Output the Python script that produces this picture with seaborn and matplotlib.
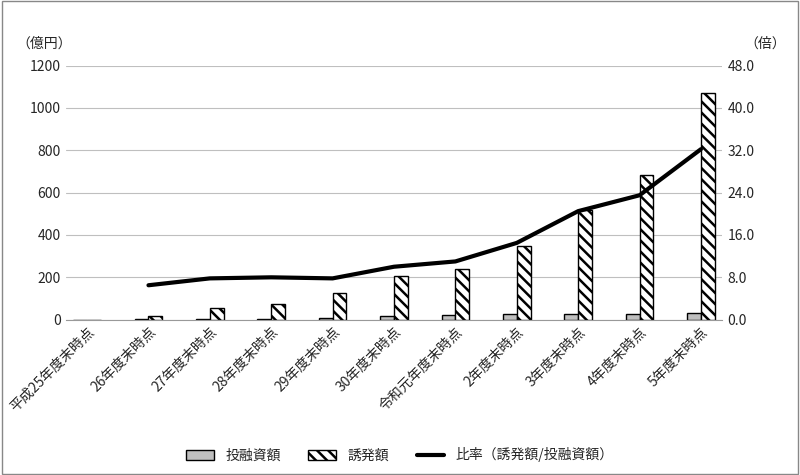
import matplotlib
matplotlib.use("Agg")
import matplotlib.pyplot as plt
import seaborn as sns
import pandas as pd
import numpy as np

sns.set_style("white")
plt.rcParams['font.family'] = ['Noto Sans CJK JP', 'DejaVu Sans']
plt.rcParams['hatch.linewidth'] = 1.8

categories = ["平成25年度末時点","26年度末時点","27年度末時点","28年度末時点","29年度末時点",
              "30年度末時点","令和元年度末時点","2年度末時点","3年度末時点","4年度末時点","5年度末時点"]
invest = [0, 2, 3, 4, 10, 17, 20, 25, 26, 28, 33]
induced = [0, 15, 57, 72, 127, 205, 240, 350, 520, 685, 1070]
ratio = [np.nan, 6.5, 7.8, 8.0, 7.8, 10.0, 11.0, 14.5, 20.5, 23.5, 32.2]

df = pd.DataFrame({"cat": categories * 2,
                   "val": invest + induced,
                   "s": ["投融資額"] * 11 + ["誘発額"] * 11})

fig, ax = plt.subplots(figsize=(8, 4.75), dpi=100)
fig.subplots_adjust(left=0.082, right=0.903, top=0.862, bottom=0.327)
sns.barplot(data=df, x="cat", y="val", hue="s", palette=["#bfbfbf", "white"],
            width=0.45, edgecolor="black", linewidth=1, ax=ax, legend=False)
for p in ax.patches[11:22]:
    p.set_hatch("\\\\\\")
ax.set_xlim(-0.35, 10.35)
ax.set_ylim(0, 1200)
ax.set_yticks(range(0, 1201, 200))
ax.yaxis.grid(True, color="#bfbfbf", lw=0.8)
ax.set_xlabel(""); ax.set_ylabel("")
ax.set_xticks(range(11))
ax.set_xticklabels(categories, rotation=45, ha="right", rotation_mode="anchor", fontsize=10)
for s in ax.spines.values():
    s.set_visible(False)
ax.spines["bottom"].set_visible(True); ax.spines["bottom"].set_color("#999999")
ax.tick_params(length=0)

ax2 = ax.twinx()
sns.lineplot(x=list(range(11)), y=ratio, color="black", lw=3, ax=ax2)
ax2.set_ylim(0, 48)
ax2.set_yticks(np.arange(0, 48.1, 8))
ax2.set_yticklabels([f"{v:.1f}" for v in np.arange(0, 48.1, 8)])
for s in ax2.spines.values():
    s.set_visible(False)
ax2.tick_params(length=0)
fig.text(0.02, 0.9, "（億円）", fontsize=10)
fig.text(0.93, 0.9, "（倍）", fontsize=10)

from matplotlib.patches import Patch
from matplotlib.lines import Line2D
h = [Patch(facecolor="#bfbfbf", edgecolor="black"),
     Patch(facecolor="white", edgecolor="black", hatch="\\\\\\"),
     Line2D([], [], color="black", lw=3)]
fig.legend(h, ["投融資額", "誘発額", "比率（誘発額/投融資額）"], loc="lower center",
           ncol=3, frameon=False, bbox_to_anchor=(0.5, 0.0), fontsize=10)
fig.patches.append(plt.Rectangle((0.003, 0.003), 0.994, 0.994, transform=fig.transFigure,
                                 fill=False, edgecolor="#888888", lw=1))
fig.savefig("out.png")
